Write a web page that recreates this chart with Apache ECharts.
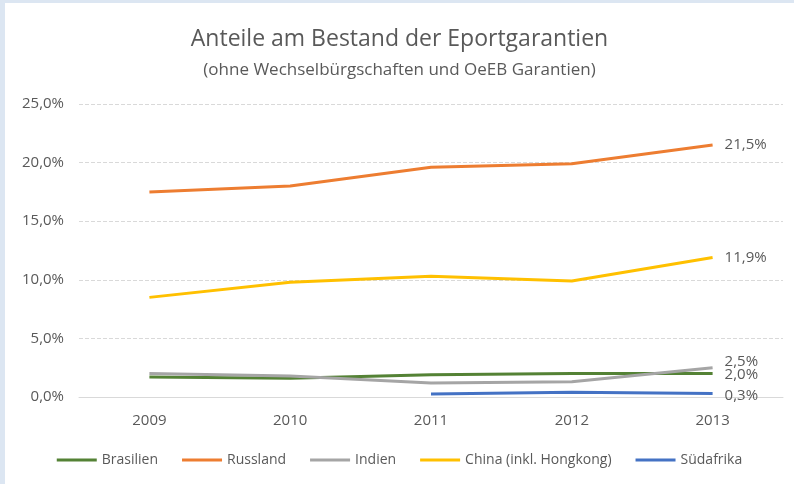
<!DOCTYPE html>
<html>
<head>
<meta charset="utf-8">
<script src="https://cdn.jsdelivr.net/npm/echarts@6/dist/echarts.min.js"></script>
<style>
    html, body { margin: 0; padding: 0; background: #dce6f2; }
    #main { position: absolute; left: 5px; top: 3px; width: 789px; height: 481px; background: #fff; }
</style>
</head>
<body>
<div id="main"></div>
<script>
    // Jahre
    var years = ['2009', '2010', '2011', '2012', '2013'];
    // Anteile in %
    var brasilien = [1.7, 1.6, 1.9, 2.0, 2.0];
    var russland = [17.5, 18.0, 19.6, 19.9, 21.5];
    var indien = [2.0, 1.8, 1.2, 1.3, 2.5];
    var china = [8.5, 9.8, 10.3, 9.9, 11.9];
    var suedafrika = [null, null, 0.25, 0.4, 0.3];

    var font = 'Open Sans';
    var grey = '#595959';

    function pct(v) {
        return v.toFixed(1).replace('.', ',') + '%';
    }

    function line(name, data, color, labelOffset) {
        return {
            name: name,
            type: 'line',
            data: data,
            symbol: 'none',
            smooth: false,
            lineStyle: { width: 3, color: color },
            itemStyle: { color: color },
            endLabel: {
                show: true,
                distance: 12,
                offset: labelOffset || [0, 0],
                color: grey,
                fontFamily: font,
                fontSize: 15,
                formatter: function (p) { return pct(p.value); }
            }
        };
    }

    var myChart = echarts.init(document.getElementById('main'));
    var option = {
        animation: false,
        title: {
            text: 'Anteile am Bestand der Eportgarantien',
            subtext: '(ohne Wechselbürgschaften und OeEB Garantien)',
            left: 'center',
            top: 20,
            itemGap: 11,
            textStyle: { color: grey, fontFamily: font, fontSize: 23, fontWeight: 'normal' },
            subtextStyle: { color: grey, fontFamily: font, fontSize: 17 }
        },
        legend: {
            bottom: 12,
            left: 'center',
            itemWidth: 40,
            itemHeight: 3,
            itemGap: 24,
            icon: 'rect',
            textStyle: { color: grey, fontFamily: font, fontSize: 14 },
            data: ['Brasilien', 'Russland', 'Indien', 'China (inkl. Hongkong)', 'Südafrika']
        },
        grid: {
            left: 74,
            right: 11,
            top: 101,
            bottom: 87
        },
        xAxis: {
            type: 'category',
            data: years,
            boundaryGap: true,
            axisLine: { lineStyle: { color: '#d9d9d9', width: 1 } },
            axisTick: { show: false },
            axisLabel: { color: grey, fontFamily: font, fontSize: 15, margin: 16 }
        },
        yAxis: {
            type: 'value',
            min: 0,
            max: 25,
            interval: 5,
            axisLine: { show: false },
            axisTick: { show: false },
            splitLine: { lineStyle: { color: '#d9d9d9', type: 'dashed' } },
            axisLabel: {
                color: grey, fontFamily: font, fontSize: 15, margin: 15,
                formatter: function (v) { return pct(v); }
            }
        },
        series: [
            line('Brasilien', brasilien, '#548235', [0, 1]),
            line('Russland', russland, '#ed7d31'),
            line('Indien', indien, '#a5a5a5', [0, -6]),
            line('China (inkl. Hongkong)', china, '#ffc000'),
            line('Südafrika', suedafrika, '#4472c4', [0, 2])
        ]
    };
    myChart.setOption(option, true);
    window.addEventListener('resize', function () {
        myChart.resize();
    });
</script>
</body>
</html>
